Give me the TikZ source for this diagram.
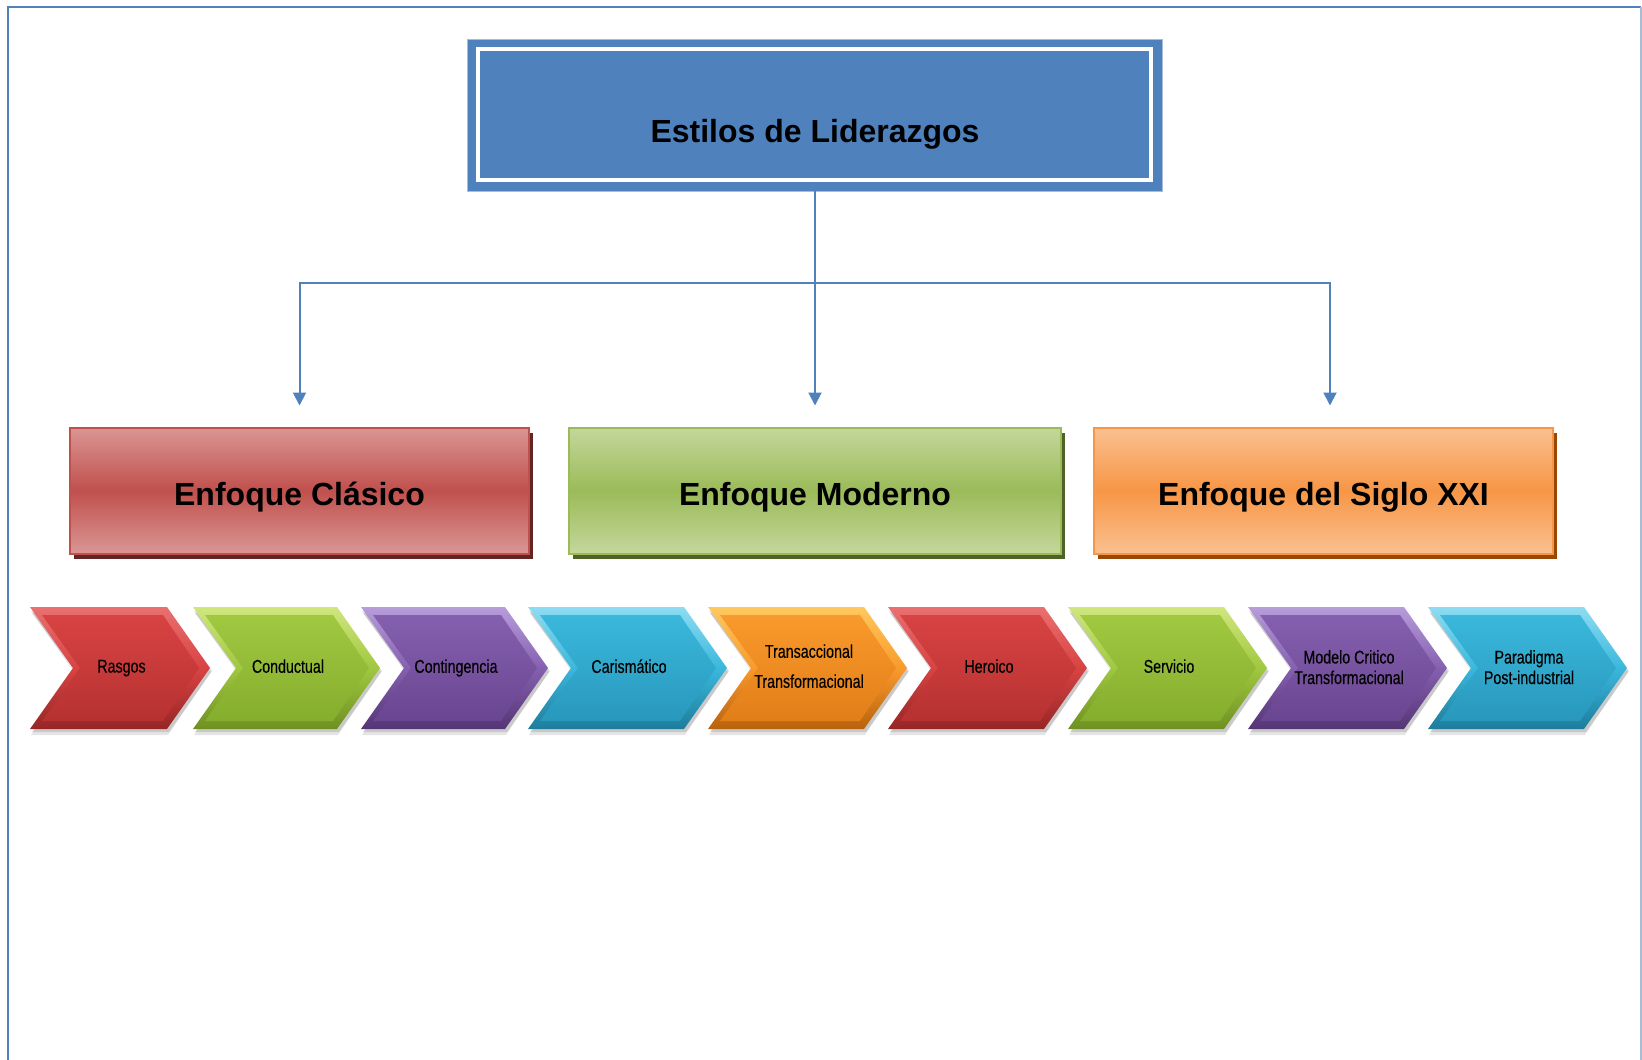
\documentclass[tikz,border=0pt]{standalone}
\usepackage{fontspec}
\setmainfont{Liberation Sans}
\newfontfamily\narrowfont{Liberation Sans}[FakeStretch=0.77,FakeBold=0.3]
\usetikzlibrary{arrows.meta,calc,shadows}

\definecolor{blueA}{HTML}{4F81BD}
\definecolor{blueL}{HTML}{A7BCD6}
% enfoque boxes
\definecolor{redM}{HTML}{C0504D}\definecolor{redL}{HTML}{DA9694}\definecolor{redS}{HTML}{632523}
\definecolor{grnM}{HTML}{9BBB59}\definecolor{grnL}{HTML}{C4D79B}\definecolor{grnS}{HTML}{4F6228}
\definecolor{orgM}{HTML}{F79646}\definecolor{orgL}{HTML}{FAC090}\definecolor{orgS}{HTML}{984807}
% chevrons: light bevel, face top, face bottom, dark
\definecolor{cRl}{HTML}{EA7070}\definecolor{cRt}{HTML}{D84343}\definecolor{cRb}{HTML}{B73131}\definecolor{cRd}{HTML}{962626}
\definecolor{cGl}{HTML}{D0E67E}\definecolor{cGt}{HTML}{A0C840}\definecolor{cGb}{HTML}{86AE2E}\definecolor{cGd}{HTML}{6E9022}
\definecolor{cPl}{HTML}{B79DDA}\definecolor{cPt}{HTML}{8560B0}\definecolor{cPb}{HTML}{6A4590}\definecolor{cPd}{HTML}{553574}
\definecolor{cCl}{HTML}{8EDCF2}\definecolor{cCt}{HTML}{3AB8DC}\definecolor{cCb}{HTML}{2898BC}\definecolor{cCd}{HTML}{1E7C9C}
\definecolor{cOl}{HTML}{FFC85E}\definecolor{cOt}{HTML}{F99A2C}\definecolor{cOb}{HTML}{E27E18}\definecolor{cOd}{HTML}{B8620E}

\newcommand\chev[6]{% #1 name, #2 left, #3 tip, #4 colour key, #5 text y, #6 text
  \pgfmathsetmacro\La{#2}\pgfmathsetmacro\Tp{#3}\pgfmathsetmacro\Ts{#3-43}
  \fill[black,opacity=.10] (\La+1,611) -- (\Ts+1,611) -- (\Tp+1,672) -- (\Ts+1,735) -- (\La+1,735) -- (\La+44,672) -- cycle;
  \fill[black,opacity=.12] (\La+2,613) -- (\Ts+2,613) -- (\Tp+2,671) -- (\Ts+2,732) -- (\La+2,732) -- (\La+45,671) -- cycle;
  \shade[top color=c#4l, bottom color=c#4d, middle color=c#4t] (\La,607) -- (\Ts,607) -- (\Tp,668) -- (\Ts,729) -- (\La,729) -- (\La+43,668) -- cycle;
  \shade[top color=c#4t, bottom color=c#4b] (\La+12,615) -- (\Ts-4,615) -- (\Tp-11,668) -- (\Ts-4,721) -- (\La+12,721) -- (\La+50,668) -- cycle;
  \node[chevtext] (#1) at ({(#2+#3)/2+1.5},#5) {#6};
}
\newcommand\ph{\vphantom{Cg}}

\begin{document}
\begin{tikzpicture}[x=1pt,y=-1pt,
  conn/.style={blueA, line width=2pt},
  arr/.style={conn, -{Triangle[width=13pt,length=13pt]}, shorten >=21pt},
  enf/.style={minimum width=459pt, minimum height=126pt, inner sep=0pt, line width=2pt},
  enflabel/.style={font=\bfseries\fontsize{32}{38}\selectfont, text=black, yshift=-7pt},
  chevtext/.style={font=\narrowfont\fontsize{18.5}{22}\selectfont, text=black, align=center, inner sep=0pt}
]
\useasboundingbox (0,0) rectangle (1642,1060);

% page frame
\draw[blueA, line width=2pt] (7.5,1062) -- (7.5,7) -- (1641,7);
\draw[blueL, line width=1.2pt] (1641,7) -- (1641,1062);

% title
\node (title) [fill=blueA, draw=blueL, line width=0.6pt, minimum width=695pt, minimum height=152pt, inner sep=0pt] at (814.5,115) {};
\draw[white, line width=4pt] (478,49) rectangle (1151,179.5);
\node (titletext) [font=\bfseries\fontsize{32}{38}\selectfont, text=black] at (815,134) {Estilos de Liderazgos};

% enfoque boxes
\node (clasico) [enf, draw=redM, top color=redL, bottom color=redL, middle color=redM,
   general shadow={fill=redS, shadow xshift=4pt, shadow yshift=-5pt},
   label={[enflabel]center:Enfoque Clásico}] at (299.5,490.5) {};
\node (moderno) [enf, minimum width=492pt, draw=grnM, top color=grnL, bottom color=grnL, middle color=grnM,
   general shadow={fill=grnS, shadow xshift=4pt, shadow yshift=-5pt},
   label={[enflabel]center:Enfoque Moderno}] at (815,490.5) {};
\node (siglo) [enf, draw=orgM, top color=orgL, bottom color=orgL, middle color=orgM,
   general shadow={fill=orgS, shadow xshift=4pt, shadow yshift=-5pt},
   label={[enflabel]center:Enfoque del Siglo XXI}] at (1323.5,490.5) {};

% connectors
\coordinate (j) at (815,283);
\draw[conn] (title.south -| j) -- (j);
\draw[arr] (j) -| (clasico.north);
\draw[arr] (j) -- (moderno.north);
\draw[arr] (j) -| ([xshift=6.5pt]siglo.north);

% chevrons
\chev{rasgos}{30}{210}{R}{668}{Rasgos\ph}
\chev{conductual}{193}{380}{G}{668}{Conductual\ph}
\chev{contingencia}{361}{548}{P}{668}{Contingencia\ph}
\chev{carismatico}{528}{727}{C}{668}{Carismático\ph}
\chev{transaccional}{708}{907}{O}{668}{Transaccional\ph\\[8pt]Transformacional\ph}
\chev{heroico}{888}{1087}{R}{668}{Heroico\ph}
\chev{servicio}{1068}{1267}{G}{668}{Servicio\ph}
\chev{modelo}{1248}{1447}{P}{669}{Modelo Critico\ph\\[-1.5pt]Transformacional\ph}
\chev{paradigma}{1428}{1627}{C}{669}{Paradigma\ph\\[-1.5pt]Post-industrial\ph}
\end{tikzpicture}
\end{document}
